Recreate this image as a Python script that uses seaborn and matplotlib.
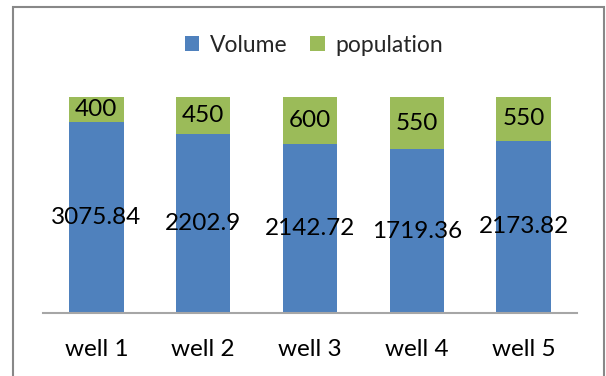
import matplotlib
matplotlib.use("Agg")
import matplotlib.pyplot as plt
from matplotlib.patches import Rectangle, Patch
import seaborn as sns
import pandas as pd

wells = ["well 1", "well 2", "well 3", "well 4", "well 5"]
volume = [3075.84, 2202.9, 2142.72, 1719.36, 2173.82]
population = [400, 450, 600, 550, 550]

BLUE = "#4F81BD"
GREEN = "#9BBB59"

df = pd.DataFrame({"well": wells, "Volume": volume, "population": population})
df["total"] = df["Volume"] + df["population"]
df["vol_share"] = df["Volume"] / df["total"]
df["full"] = 1.0

sns.set_theme(style="white")
plt.rcParams["font.family"] = ["Lato", "DejaVu Sans"]

fig = plt.figure(figsize=(6.06, 3.76), dpi=100)
ax = fig.add_axes([43/606, 1-313/376, (577-43)/606, (313-97)/376])

sns.barplot(data=df, x="well", y="full", color=GREEN, width=0.51, ax=ax,
            saturation=1, linewidth=0)
sns.barplot(data=df, x="well", y="vol_share", color=BLUE, width=0.51, ax=ax,
            saturation=1, linewidth=0)

ax.set_ylim(0, 1)
ax.set_xlim(-0.5, 4.5)
ax.set_xlabel("")
ax.set_ylabel("")
ax.set_yticks([])
for s in ["top", "right", "left"]:
    ax.spines[s].set_visible(False)
ax.spines["bottom"].set_color("#A6A6A6")
ax.spines["bottom"].set_linewidth(1.5)
ax.tick_params(axis="x", length=0, pad=19, labelsize=17.5, colors="black")

for i, row in df.iterrows():
    ax.text(i, row["vol_share"] / 2, f"{row['Volume']:g}", ha="center", va="center",
            fontsize=17.5, color="black")
    ax.text(i, row["vol_share"] + (1 - row["vol_share"]) / 2, f"{row['population']:g}",
            ha="center", va="center", fontsize=17.5, color="black")

handles = [Patch(facecolor=BLUE, edgecolor="none", label="Volume"),
           Patch(facecolor=GREEN, edgecolor="none", label="population")]
fig.legend(handles=handles, loc="center", bbox_to_anchor=(0.518, 1-45/376), ncol=2,
           frameon=False, fontsize=16.5, handlelength=0.65, handleheight=0.65,
           handletextpad=0.45, columnspacing=1.0)

fig.patches.append(Rectangle((13/606, -0.1), (604-13)/606, 1.1 - 7/376,
                             transform=fig.transFigure, fill=False,
                             edgecolor="#888888", linewidth=1.5))

fig.savefig("out.png", dpi=100, facecolor="white")
